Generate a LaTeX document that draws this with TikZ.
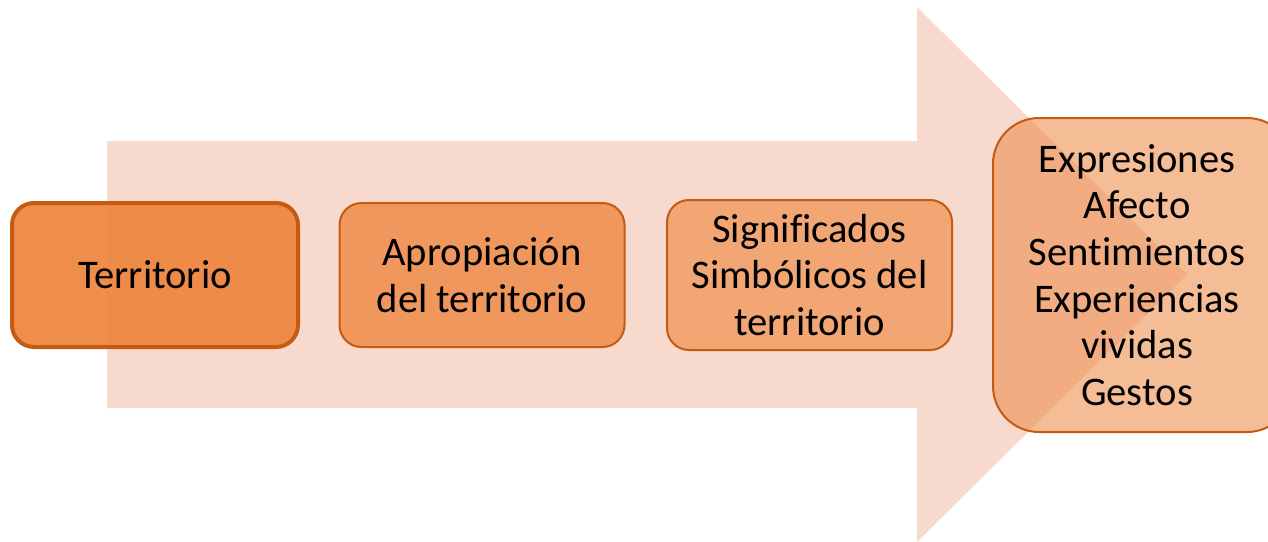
\documentclass[tikz,border=0pt]{standalone}
\usepackage{fontspec}
\setmainfont[Ligatures={NoCommon}]{Carlito}
\definecolor{arrowpink}{HTML}{F8D9CE}
\definecolor{edge}{HTML}{C55A11}
\definecolor{fillA}{HTML}{EE8741}
\definecolor{fillB}{HTML}{F0975D}
\definecolor{fillC}{HTML}{F2A674}
\definecolor{fillD}{HTML}{ED8B47}
\begin{document}
\begin{tikzpicture}[x=0.5pt,y=-0.5pt,
  lbl/.style={font=\fontsize{20.3}{23.3}\selectfont, align=center, inner sep=0pt},
  stepbox/.style={draw=edge, line width=1pt, rounded corners=11pt, align=center,
    font=\fontsize{20.3}{23.3}\selectfont, inner sep=0pt}]
\useasboundingbox (0,0) rectangle (1268,541);
\clip (0,0) rectangle (1268,541);
% big arrow
\fill[arrowpink] (107,141) -- (917,141) -- (917,7) -- (1187,274.5) -- (917,542) -- (917,408) -- (107,408) -- cycle;
% boxes
\node[stepbox, fill=fillA, fill opacity=0.95, text opacity=1, line width=2pt, minimum width=143pt, minimum height=72pt] (t) at (155,275) {};
\node[lbl] (tl) at (t.center) {Territorio};
\node[stepbox, fill=fillB, minimum width=142.5pt, minimum height=72pt] (a) at (482,275) {Apropiación\\del territorio};
\node[stepbox, fill=fillC, minimum width=142.5pt, minimum height=75pt] (s) at (809.5,275) {Significados\\Simbólicos del\\territorio};
\node[stepbox, fill=fillD, fill opacity=0.57, text opacity=1, rounded corners=23pt, minimum width=150pt, minimum height=157pt] (e) at (1143,275) {};
\node[lbl] (el) at (1137,275) {Expresiones\\Afecto\\Sentimientos\\Experiencias\\vividas\\Gestos};
\end{tikzpicture}
\end{document}
